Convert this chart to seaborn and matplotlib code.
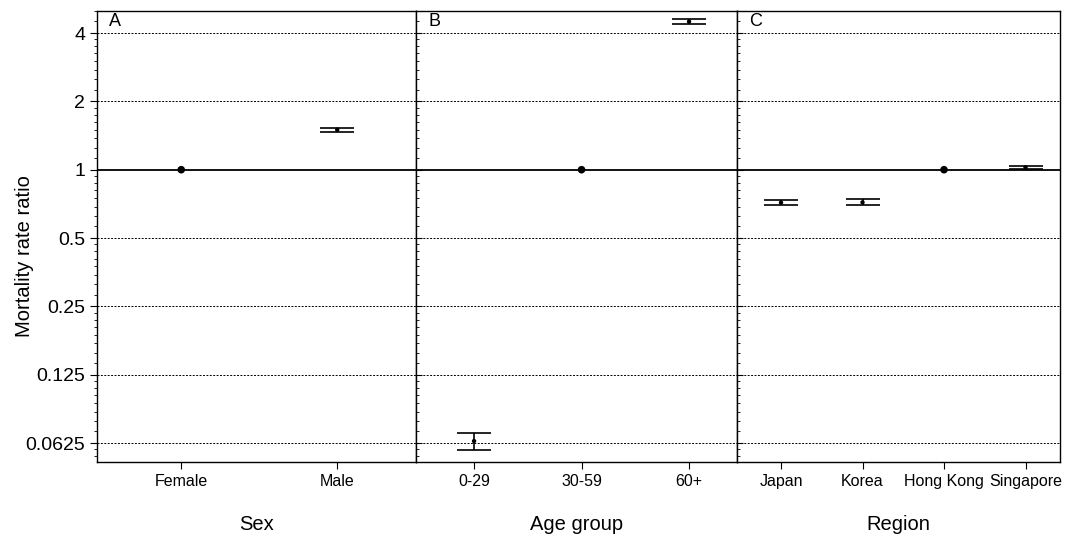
import matplotlib
matplotlib.use("Agg")
import matplotlib.pyplot as plt
from matplotlib.ticker import FixedLocator, NullFormatter
import numpy as np
import pandas as pd
import seaborn as sns

# estimates with 95% CI (reference groups have no interval)
sex_cats = ['Female', 'Male']
sex_est = [1.0, 1.50]
sex_lo = [np.nan, 1.47]
sex_hi = [np.nan, 1.53]

age_cats = ['0-29', '30-59', '60+']
age_est = [0.0638, 1.0, 4.49]
age_lo = [0.0582, np.nan, 4.38]
age_hi = [0.0695, np.nan, 4.61]

region_cats = ['Japan', 'Korea', 'Hong Kong', 'Singapore']
region_est = [0.716, 0.718, 1.0, 1.024]
region_lo = [0.700, 0.698, np.nan, 1.008]
region_hi = [0.736, 0.740, np.nan, 1.042]

y_ticks = [0.0625, 0.125, 0.25, 0.5, 1, 2, 4]
y_ticklabels = ['0.0625', '0.125', '0.25', '0.5', '1', '2', '4']

panels = [
    ('A', 'Sex', sex_cats, sex_est, sex_lo, sex_hi),
    ('B', 'Age group', age_cats, age_est, age_lo, age_hi),
    ('C', 'Region', region_cats, region_est, region_lo, region_hi),
]

sns.set_theme(style='white')
plt.rcParams['font.family'] = ['Liberation Sans', 'DejaVu Sans']
plt.rcParams['text.color'] = 'black'
plt.rcParams['axes.labelcolor'] = 'black'
plt.rcParams['xtick.color'] = 'black'
plt.rcParams['ytick.color'] = 'black'

fig = plt.figure(figsize=(10.75, 5.35), dpi=100)
bottom, top = 1 - 462 / 535, 1 - 11 / 535
widths = [319, 321, 323]
spacing = [156, 107.5, 81.5]
x0 = 97
axes = []
for w in widths:
    ax = fig.add_axes([x0 / 1075, bottom, w / 1075, top - bottom])
    axes.append(ax)
    x0 += w

minor = []
for k in range(-5, 3):
    base = 2.0 ** k
    minor += [base * s for s in np.arange(1.125, 2.0, 0.125)]

for i, (ax, (letter, xlabel, cats, est, lo, hi)) in enumerate(zip(axes, panels)):
    df = pd.DataFrame({'cat': cats, 'est': est, 'lo': lo, 'hi': hi})
    df['pos'] = np.arange(len(cats))
    df['ref'] = df['lo'].isna()

    # gridlines and reference line
    for t in y_ticks:
        if t == 1:
            ax.axhline(t, color='black', lw=1.3, zorder=1)
        else:
            ax.axhline(t, color='black', lw=0.7, ls=(0, (2, 1.5)), zorder=1)

    ci = df[~df['ref']]
    ax.errorbar(ci['pos'], ci['est'],
                yerr=[ci['est'] - ci['lo'], ci['hi'] - ci['est']],
                fmt='none', ecolor='black', elinewidth=1.2, capsize=12,
                capthick=1.2, zorder=3)
    sns.scatterplot(data=ci, x='pos', y='est', ax=ax, color='black',
                    s=10, edgecolor='none', zorder=4)
    sns.scatterplot(data=df[df['ref']], x='pos', y='est', ax=ax, color='black',
                    s=30, edgecolor='none', zorder=4)

    ax.set_yscale('log', base=2)
    ax.set_ylim(0.0516, 5.0)
    ax.set_xticks(df['pos'])
    ax.set_xticklabels(cats, fontsize=11.5)
    ax.set_xlim(-0.54, -0.54 + widths[i] / spacing[i])
    ax.set_xlabel(xlabel, fontsize=14.5, labelpad=18.5)
    ax.set_ylabel('')
    ax.text(12 / widths[i], 0.995, letter, transform=ax.transAxes, ha='left',
            va='top', fontsize=13)
    for sp in ax.spines.values():
        sp.set_color('black')
        sp.set_linewidth(1.0)
    ax.tick_params(axis='x', which='major', direction='out', length=5, width=0.8,
                   color='black', bottom=True)
    ax.yaxis.set_major_locator(FixedLocator(y_ticks))
    ax.yaxis.set_minor_locator(FixedLocator(minor))
    ax.yaxis.set_minor_formatter(NullFormatter())
    if i == 0:
        ax.set_yticklabels(y_ticklabels, fontsize=14)
        ax.tick_params(axis='y', which='major', direction='out', length=5,
                       width=0.8, color='black', left=True)
        ax.tick_params(axis='y', which='minor', direction='out', length=2.5,
                       width=0.6, color='black', left=True)
        ax.set_ylabel('Mortality rate ratio', fontsize=14.5)
        ax.yaxis.set_label_coords((34 - 97) / 319, 0.457)
    else:
        ax.set_yticklabels([])
        ax.tick_params(axis='y', which='major', direction='in', length=4,
                       width=0.8, color='black', left=True)
        ax.tick_params(axis='y', which='minor', direction='in', length=2,
                       width=0.6, color='black', left=True)

fig.savefig('out.png', dpi=100)
